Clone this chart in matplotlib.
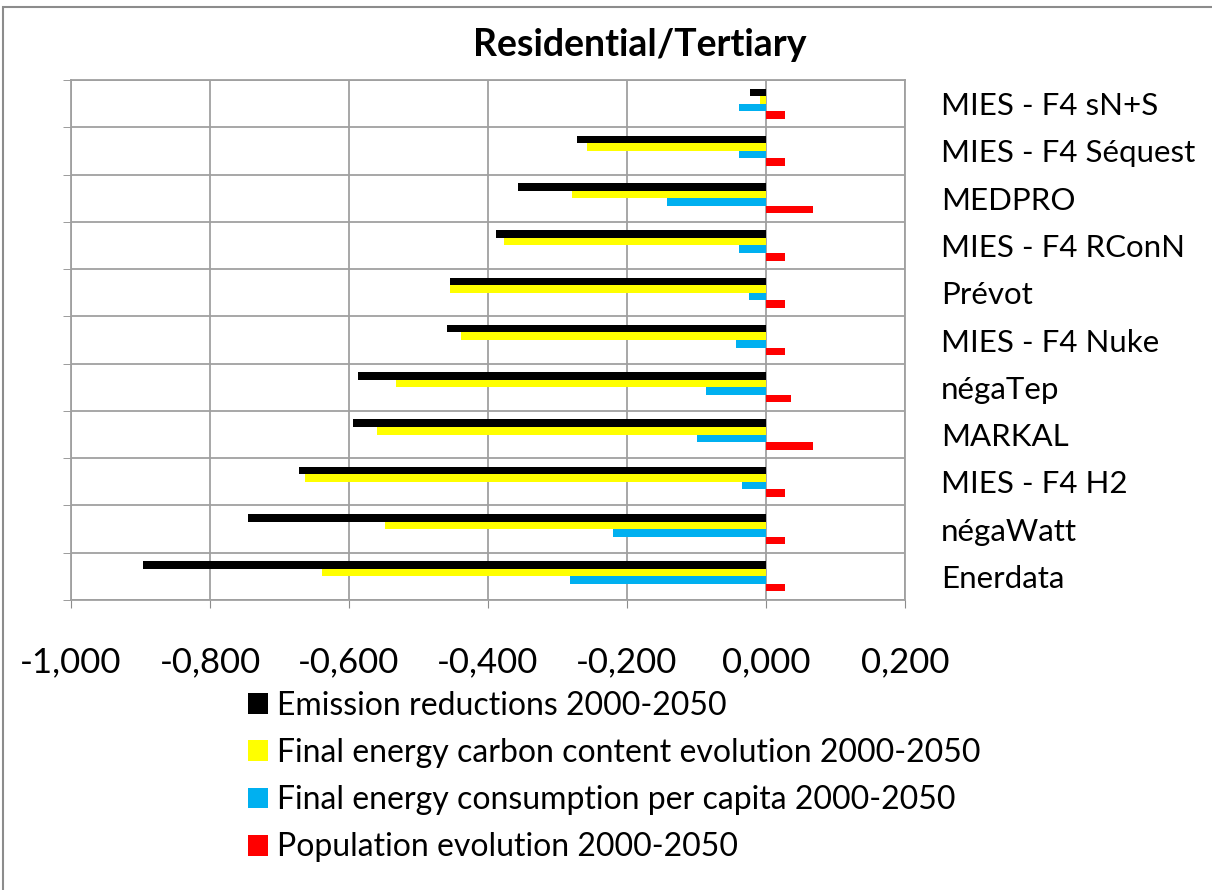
#!/usr/bin/env python3
# -*- coding: utf-8 -*-

import numpy as np
import matplotlib
matplotlib.use("Agg")
import matplotlib.pyplot as plt
from matplotlib.patches import Patch, Rectangle
from matplotlib.ticker import FuncFormatter

# categories from bottom to top
categories = ["Enerdata", "négaWatt", "MIES - F4 H2", "MARKAL", "négaTep",
              "MIES - F4 Nuke", "Prévot", "MIES - F4 RConN", "MEDPRO",
              "MIES - F4 Séquest", "MIES - F4 sN+S"]

emission = [-0.897, -0.745, -0.672, -0.594, -0.587, -0.459, -0.455, -0.388,
            -0.357, -0.272, -0.023]
carbon = [-0.639, -0.548, -0.663, -0.560, -0.532, -0.439, -0.455, -0.377,
          -0.279, -0.258, -0.009]
consumption = [-0.282, -0.220, -0.035, -0.099, -0.086, -0.043, -0.024, -0.039,
               -0.142, -0.039, -0.039]
population = [0.028, 0.028, 0.028, 0.067, 0.036, 0.028, 0.028, 0.028,
              0.067, 0.028, 0.028]

series_names = ["Emission reductions 2000-2050",
                "Final energy carbon content evolution 2000-2050",
                "Final energy consumption per capita 2000-2050",
                "Population evolution 2000-2050"]
colors = ["#000000", "#FFFF00", "#00B0F0", "#FF0000"]

plt.rcParams['font.family'] = ['Lato', 'DejaVu Sans']


def fmt(v, p):
    if abs(v) < 1e-9:
        v = 0.0
    return ("%.3f" % v).replace(".", ",")


W, H = 1212, 890
fig = plt.figure(figsize=(W / 100, H / 100), dpi=100)
fig.patches.append(Rectangle((3 / W, -0.1), 1.2, 1 - 7 / H + 0.1,
                             transform=fig.transFigure, fill=False,
                             edgecolor="#8c8c8c", linewidth=1.5))

ax = fig.add_axes([71 / W, 1 - 600 / H, (905 - 71) / W, (600 - 80) / H])

y = np.arange(len(categories))
h = 0.16
data = [emission, carbon, consumption, population]
offsets = [0.24, 0.08, -0.08, -0.24]
for vals, off, col in zip(data, offsets, colors):
    ax.barh(y + off, vals, height=h, color=col, edgecolor="none")

ax.set_xlim(-1.0, 0.2)
ax.set_ylim(-0.5, len(categories) - 0.5)
ax.set_xticks(np.arange(-1.0, 0.21, 0.2))
ax.xaxis.set_major_formatter(FuncFormatter(fmt))
ax.tick_params(axis='x', length=6, color="#8c8c8c", pad=27, labelsize=25)

ax.set_yticks(y)
ax.set_yticklabels(categories)
ax.set_yticks(np.arange(-0.5, len(categories), 1.0), minor=True)
ax.tick_params(axis='y', which='major', left=False, right=True, labelleft=False,
               labelright=True, length=0, pad=26, labelsize=22.5)
ax.tick_params(axis='y', which='minor', left=True, right=False, length=6,
               color="#8c8c8c")

ax.grid(True, axis='x', which='major', color="#a0a0a0", linewidth=1.3)
ax.grid(True, axis='y', which='minor', color="#a0a0a0", linewidth=1.3)
ax.set_axisbelow(True)
for s in ax.spines.values():
    s.set_color("#a0a0a0")
    s.set_linewidth(1.3)

fig.text(640 / W, 1 - 45 / H, "Residential/Tertiary", ha='center', va='center',
         fontsize=27, fontweight='bold')

handles = [Patch(facecolor=c, edgecolor="none") for c in colors]
fig.legend(handles, series_names, loc='upper left',
           bbox_to_anchor=(219 / W, 1 - 662 / H), frameon=False,
           fontsize=23, handlelength=0.62, handleheight=0.62, handletextpad=0.3,
           labelspacing=0.54)

fig.savefig("out.png", dpi=100)
